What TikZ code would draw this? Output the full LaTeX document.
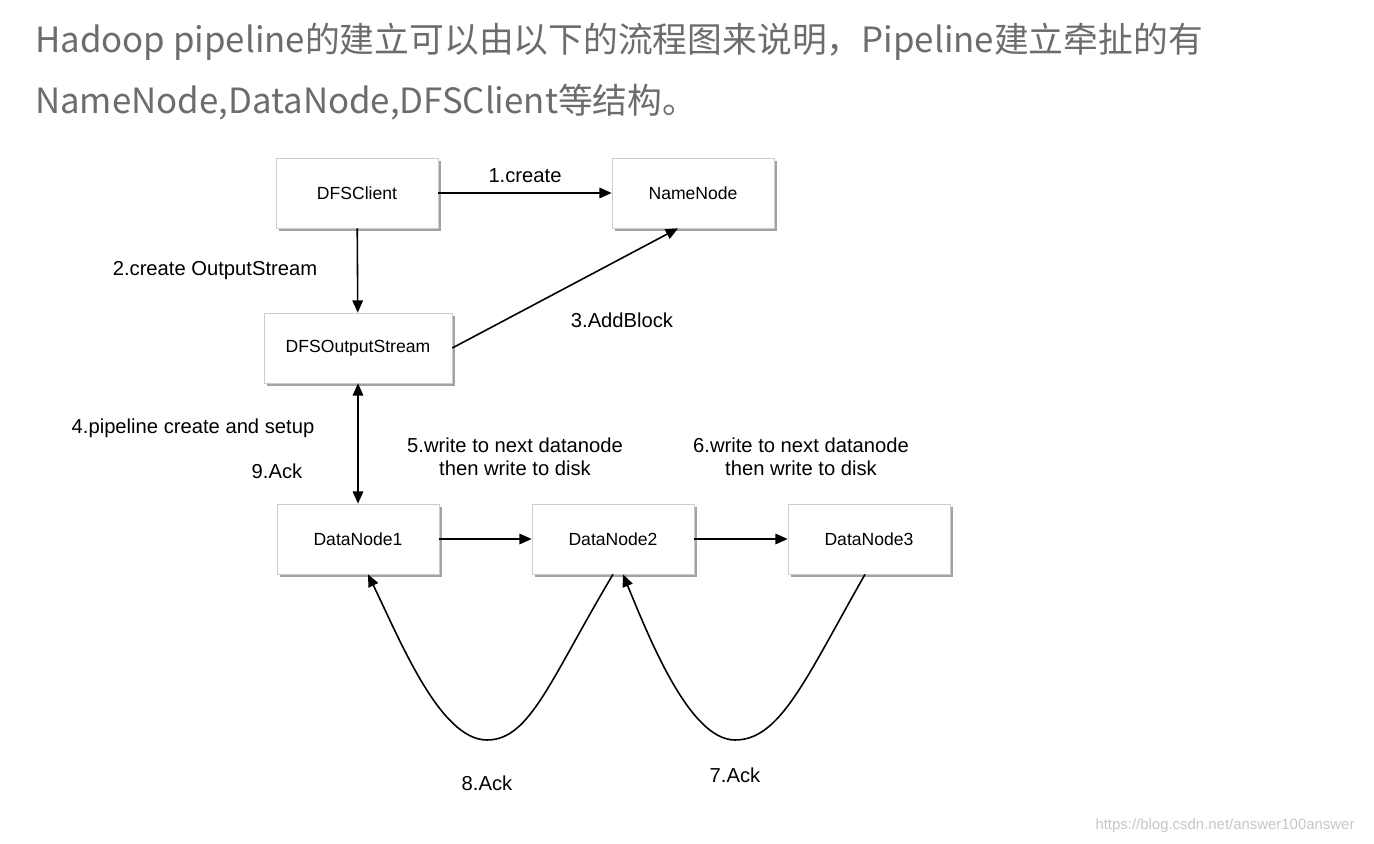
\documentclass[tikz,border=0pt]{standalone}
\usepackage{fontspec}
\setmainfont{Liberation Sans}
\newfontfamily\cjk{Noto Sans CJK SC}
\usetikzlibrary{shadows,arrows.meta}
\begin{document}
\begin{tikzpicture}[x=0.02cm,y=-0.02cm,
  box/.style={draw=gray!40,fill=white,minimum width=3.24cm,minimum height=1.4cm,font=\fontsize{10}{11}\selectfont,
    drop shadow={shadow xshift=1.5pt,shadow yshift=-1.5pt,fill=black!60,opacity=0.6}},
  lab/.style={font=\fontsize{11.5}{13}\selectfont,align=center},
  arr/.style={-{Triangle[length=7pt,width=6pt]},line width=0.9pt}]
\useasboundingbox (0,0) rectangle (1374,844);
\node[anchor=west,text=gray!85!black,font=\cjk\fontsize{19.8}{22}\selectfont] (h1) at (29,42) {Hadoop pipeline的建立可以由以下的流程图来说明，Pipeline建立牵扯的有};
\node[anchor=west,text=gray!85!black,font=\cjk\fontsize{19.8}{22}\selectfont] (h2) at (29,102) {NameNode,DataNode,DFSClient等结构。};
\node[box] (dc) at (357,193) {DFSClient};
\node[box] (nn) at (693,193) {NameNode};
\node[box,minimum width=3.76cm] (os) at (358,348) {DFSOutputStream};
\node[box] (d1) at (358,539) {DataNode1};
\node[box] (d2) at (613,539) {DataNode2};
\node[box] (d3) at (869,539) {DataNode3};
\draw[arr] (dc) -- (nn) node[lab,midway,above=2pt] (l1) {1.create};
\draw[arr] (dc) -- (os);
\node[lab] (l2) at (215,271) {2.create OutputStream};
\draw[arr] (os.east) -- ([xshift=-0.3cm]nn.south) ;
\node[lab] (l3) at (622,320) {3.AddBlock};
\draw[arr,{Triangle[length=7pt,width=6pt]}-{Triangle[length=7pt,width=6pt]}] (os) -- (d1);
\node[lab] (l4) at (193,428) {4.pipeline create and setup};
\node[lab] (l9) at (277,471) {9.Ack};
\draw[arr] (d1) -- (d2);
\draw[arr] (d2) -- (d3);
\node[lab] (l5) at (515,457) {5.write to next datanode\\then write to disk};
\node[lab] (l6) at (801,457) {6.write to next datanode\\then write to disk};
\draw[arr] (d2.south) .. controls (550,680) and (530,740) .. (487,740) .. controls (440,740) and (400,640) .. ([xshift=0.2cm]d1.south);
\draw[arr] ([xshift=-0.08cm]d3.south) .. controls (805,680) and (780,740) .. (735,740) .. controls (690,740) and (650,640) .. ([xshift=0.2cm]d2.south);
\node[lab] (l8) at (487,783) {8.Ack};
\node[lab] (l7) at (735,775) {7.Ack};
\node[text=gray!45,font=\fontsize{8.5}{10}\selectfont] (wm) at (1225,826) {https://blog.csdn.net/answer100answer};
\end{tikzpicture}
\end{document}
